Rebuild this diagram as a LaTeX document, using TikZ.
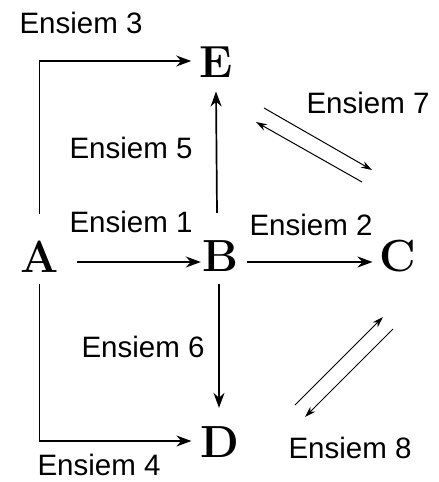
\documentclass[tikz,border=0pt]{standalone}
\usepackage{fontspec}
\newfontfamily\labfont{Liberation Sans}
\usetikzlibrary{arrows.meta}
\begin{document}
\begin{tikzpicture}[x=1pt,y=-1pt,
  letter/.style={inner sep=0pt,font=\fontsize{45}{45}\selectfont\bfseries},
  lab/.style={inner sep=0pt,font=\labfont\fontsize{29.5}{29.5}\selectfont},
  arr/.style={line width=1.7pt,-{Stealth[length=15pt,width=11pt]}},
  side/.style={line width=1.4pt,-{Stealth[length=15pt,width=11pt]}},
  diag/.style={line width=1pt,-{Stealth[length=11pt,width=7pt]}}]
\useasboundingbox (0,0) rectangle (439,482);
\fill[white] (0,0) rectangle (439,482);
% letters
\node[letter] (A) at (39.5,256.5) {A};
\node[letter] (B) at (220,256.5) {B};
\node[letter] (C) at (398,256.5) {C};
\node[letter] (E) at (216,62) {E};
\node[letter] (D) at (220,442.5) {D};
% labels
\node[lab] (l3) at (81,23) {Ensiem 3};
\node[lab] (l1) at (131,222) {Ensiem 1};
\node[lab] (l2) at (311,225) {Ensiem 2};
\node[lab] (l5) at (131,148) {Ensiem 5};
\node[lab] (l7) at (368,103) {Ensiem 7};
\node[lab] (l6) at (143,347) {Ensiem 6};
\node[lab] (l4) at (99,465) {Ensiem 4};
\node[lab] (l8) at (350,448) {Ensiem 8};
% connectors
\draw[arr] ([xshift=18pt,yshift=-5.5pt]A.east) -- ([xshift=-1pt,yshift=-5.5pt]B.west);
\draw[arr] ([xshift=9pt,yshift=-5.5pt]B.east) -- ([xshift=-7pt,yshift=-5.5pt]C.west);
\draw[side] ([yshift=27pt]A.north) |- ([xshift=-8pt,yshift=1pt]E.west);
\draw[side] ([yshift=-12pt]A.south) |- ([xshift=-9pt,yshift=1.5pt]D.west);
\draw[arr] ([xshift=-3pt,yshift=28pt]B.north) -- ([yshift=-14pt]E.south);
\draw[arr] ([xshift=-1pt,yshift=-12pt]B.south) -- ([xshift=-1pt,yshift=19pt]D.north);
% diagonal pairs
\coordinate (s7a) at (264,108); \coordinate (t7a) at (372,170);
\coordinate (s7b) at (362,182); \coordinate (t7b) at (256,122);
\coordinate (s8a) at (295,405); \coordinate (t8a) at (383,317);
\coordinate (s8b) at (393,329); \coordinate (t8b) at (305,417);
\draw[diag] (s7a) -- (t7a);
\draw[diag] (s7b) -- (t7b);
\draw[diag] (s8a) -- (t8a);
\draw[diag] (s8b) -- (t8b);
\end{tikzpicture}
\end{document}
